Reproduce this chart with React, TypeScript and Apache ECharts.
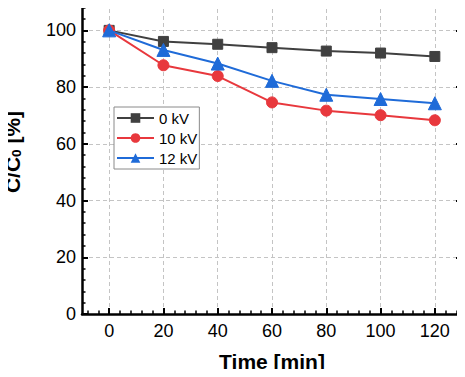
import React, { useEffect, useRef } from "react";
import * as echarts from "echarts";

const times = [0, 20, 40, 60, 80, 100, 120];
const kv0 = [100, 96.1, 95.1, 93.9, 92.7, 92.0, 90.8];
const kv10 = [100, 87.7, 83.9, 74.6, 71.7, 70.1, 68.3];
const kv12 = [100, 93.1, 88.3, 82.2, 77.3, 75.8, 74.3];
const seriesNames = ["0 kV", "10 kV", "12 kV"];
const xMajor = [0, 20, 40, 60, 80, 100, 120];
const xMinor = [-8, -4, 4, 8, 12, 16, 24, 28, 32, 36, 44, 48, 52, 56, 64, 68, 72, 76, 84, 88, 92, 96, 104, 108, 112, 116, 124, 128];
const yMajor = [0, 20, 40, 60, 80, 100];
const yMinor = [4, 8, 12, 16, 24, 28, 32, 36, 44, 48, 52, 56, 64, 68, 72, 76, 84, 88, 92, 96, 104, 108];

const FONT = "'Liberation Sans', Arial, sans-serif";

export default function App() {
  const ref = useRef<HTMLDivElement>(null);
  useEffect(() => {
    if (!ref.current) return;
    const chart = echarts.init(ref.current, null, { renderer: "svg" });
    const gridRect = { left: 82, right: 3, top: 2, bottom: 63, containLabel: false, outerBoundsMode: "none" };
    const axisLine = { show: true, onZero: false, lineStyle: { color: "#000", width: 2.5 } };
    const noLine = { show: false, onZero: false };
    const xBase = { type: "value", min: -10, max: 130 };
    const yBase = { type: "value", min: 0, max: 110 };
    const majorTick = (vals: number[]) => ({ show: true, inside: true, length: 6, lineStyle: { color: "#000", width: 2 }, customValues: vals });
    const minorTick = (vals: number[]) => ({ show: true, inside: true, length: 3.5, lineStyle: { color: "#000", width: 1.5 }, customValues: vals });
    const split = { show: true, lineStyle: { color: "#c4c4c4", type: [4, 3], width: 1 } };
    const mk = (data: number[]) => times.map((t, i) => [t, data[i]]);
    const colors = ["#404040", "#e8383d", "#1f6bd8"];
    const symbols = ["rect", "circle", "triangle"];
    const sizes = [10, 11, 13];
    const dataSets = [kv0, kv10, kv12];

    chart.setOption({
      animation: false,
      grid: [
        { ...gridRect },
        { ...gridRect },
      ],
      graphic: [
        {
          type: "text",
          x: 12,
          y: 152,
          rotation: Math.PI / 2,
          style: {
            text: "{b|C/C}{s|0}{b| [%]}",
            align: "center",
            verticalAlign: "middle",
            rich: {
              b: { fontFamily: FONT, fontSize: 21, fontWeight: "bold", fill: "#000", lineHeight: 22 },
              s: { fontFamily: FONT, fontSize: 13.5, fontWeight: "bold", fill: "#000", lineHeight: 14, verticalAlign: "bottom" },
            },
          },
        },
      ],
      legend: {
        left: 114,
        top: 107,
        orient: "vertical",
        itemWidth: 37,
        itemHeight: 12,
        itemGap: 4,
        padding: [3, 2, 3, 2],
        borderColor: "#8a8a8a",
        borderWidth: 1,
        backgroundColor: "#fff",
        textStyle: { fontFamily: FONT, fontSize: 15, lineHeight: 16, color: "#000" },
        data: seriesNames,
      },
      xAxis: [
        {
          ...xBase, gridIndex: 0, position: "bottom",
          axisLine, axisTick: majorTick(xMajor),
          axisLabel: { show: true, customValues: xMajor, fontFamily: FONT, fontSize: 18, color: "#000", margin: 8 },
          splitLine: split,
          name: "Time [min]", nameLocation: "middle", nameGap: 37,
          nameTextStyle: { fontFamily: FONT, fontSize: 21, fontWeight: "bold", color: "#000" },
        },
        {
          ...xBase, gridIndex: 0, position: "top",
          axisLine, axisTick: majorTick(xMajor), axisLabel: { show: false }, splitLine: { show: false },
        },
        {
          ...xBase, gridIndex: 1, position: "bottom",
          axisLine: noLine, axisTick: minorTick(xMinor), axisLabel: { show: false }, splitLine: { show: false },
        },
        {
          ...xBase, gridIndex: 1, position: "top",
          axisLine: noLine, axisTick: minorTick(xMinor), axisLabel: { show: false }, splitLine: { show: false },
        },
      ],
      yAxis: [
        {
          ...yBase, gridIndex: 0, position: "left",
          axisLine, axisTick: majorTick(yMajor),
          axisLabel: { show: true, customValues: yMajor, fontFamily: FONT, fontSize: 18, color: "#000", margin: 6 },
          splitLine: split,
        },
        {
          ...yBase, gridIndex: 0, position: "right",
          axisLine, axisTick: majorTick(yMajor), axisLabel: { show: false }, splitLine: { show: false },
        },
        {
          ...yBase, gridIndex: 1, position: "left",
          axisLine: noLine, axisTick: minorTick(yMinor), axisLabel: { show: false }, splitLine: { show: false },
        },
        {
          ...yBase, gridIndex: 1, position: "right",
          axisLine: noLine, axisTick: minorTick(yMinor), axisLabel: { show: false }, splitLine: { show: false },
        },
      ],
      series: dataSets.map((d, i) => ({
        type: "line",
        name: seriesNames[i],
        xAxisIndex: 0,
        yAxisIndex: 0,
        data: mk(d),
        symbol: symbols[i],
        symbolSize: sizes[i],
        color: colors[i],
        lineStyle: { color: colors[i], width: 2 },
        itemStyle: { color: colors[i], borderColor: colors[i] },
        z: 2 + i,
      })),
    });
    return () => chart.dispose();
  }, []);
  return <div ref={ref} style={{ width: 465, height: 377, margin: -8 }} />;
}
